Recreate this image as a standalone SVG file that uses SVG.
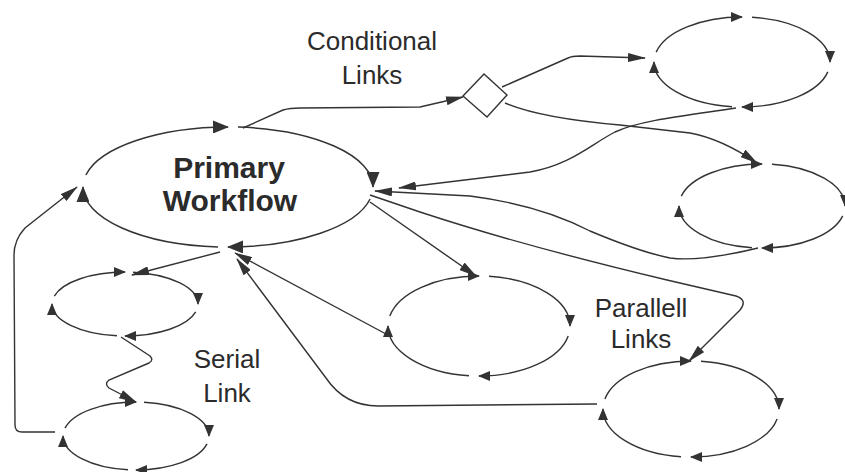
<svg xmlns="http://www.w3.org/2000/svg" width="845" height="472" viewBox="0 0 845 472">
<style>
  .arc { fill: none; stroke: #333; stroke-width: 1.4; marker-end: url(#ea); }
  .parc { fill: none; stroke: #333; stroke-width: 1.5; marker-end: url(#pa); }
  .link { fill: none; stroke: #333; stroke-width: 1.4; }
  .arr { marker-end: url(#ca); }
  .lbl { font-family: "Liberation Sans", Arial, Helvetica, sans-serif; font-size: 26px; fill: #2b2b2b; text-anchor: middle; }
  .title { font-family: "Liberation Sans", Arial, Helvetica, sans-serif; font-size: 30px; font-weight: bold; fill: #2b2b2b; text-anchor: middle; }
</style>
<defs>
  <marker id="ea" viewBox="0 0 12 10" refX="11" refY="5" markerWidth="12" markerHeight="10" orient="auto" markerUnits="userSpaceOnUse">
    <path d="M0,0 L12,5 L0,10 z" fill="#333"/>
  </marker>
  <marker id="pa" viewBox="0 0 16 13" refX="15" refY="6.5" markerWidth="16" markerHeight="13" orient="auto" markerUnits="userSpaceOnUse">
    <path d="M0,0 L16,6.5 L0,13 z" fill="#333"/>
  </marker>
  <marker id="ca" viewBox="0 0 18 9" refX="17" refY="4.5" markerWidth="18" markerHeight="9" orient="auto" markerUnits="userSpaceOnUse">
    <path d="M0,0 L18,4.5 L0,9 z" fill="#333"/>
  </marker>
</defs>
<rect width="845" height="472" fill="#ffffff"/>

<g id="connectors">
  <path class="link arr" d="M243,128 L283,110 Q290,108 300,108 L420,107 L463,97"/>
  <path class="link arr" d="M502,87 L568,58 Q572,56 580,56 L645,58"/>
  <path class="link arr" d="M505,103 Q540,118 620,125 L690,133 Q722,139 757,163"/>
  <path class="link arr" d="M736,108 C690,115 640,120 615,132 C590,145 570,165 530,172 L399,188"/>
  <path class="link arr" d="M758,248 Q700,262 670,258 Q640,252 590,231 Q540,205 470,196 L375,191"/>
  <path class="link arr" d="M370,202 L476,276"/>
  <path class="link arr" d="M370,195 L420,212 Q520,245 667,280 L736,296 Q748,300 740,310 L689,361"/>
  <path class="link arr" d="M386,334 L235,253"/>
  <path class="link arr" d="M597,404 L378,406 Q345,406 326,378 L237,259"/>
  <path class="link arr" d="M220,252 L132,275"/>
  <path class="link arr" d="M121,337 L150,356 Q154,360 149,363 L109,380 Q104,384 109,388 L136,402"/>
  <path class="link arr" d="M55,432 L22,432 Q15,432 15,425 L14,255 Q14,240 25,228 L77,187"/>
  <polygon id="decision" points="463,96 484,74 507,95 487,117" fill="#ffffff" stroke="#333" stroke-width="1.4"/>
</g>

<g id="primary">
  <path class="parc" d="M85.9,175 A145,60 0 0 1 228,127"/>
  <path class="parc" d="M238,127.1 A145,60 0 0 1 373,187"/>
  <path class="parc" d="M370.1,199 A145,60 0 0 1 228,247"/>
  <path class="parc" d="M218,246.9 A145,60 0 0 1 83,187"/>
  <text class="title" x="229" y="178">Primary</text>
  <text class="title" x="230" y="211">Workflow</text>
</g>

<g id="cond-top">
  <path class="arc" d="M656.2,52.1 A88,45 0 0 1 742,17"/>
  <path class="arc" d="M752,17.3 A88,45 0 0 1 830,62"/>
  <path class="arc" d="M827.8,71.9 A88,45 0 0 1 742,107"/>
  <path class="arc" d="M732,106.7 A88,45 0 0 1 654,62"/>
</g>

<g id="cond-mid">
  <path class="arc" d="M681.3,196.1 A83,42 0 0 1 762,164"/>
  <path class="arc" d="M772,164.3 A83,42 0 0 1 845,206"/>
  <path class="arc" d="M842.7,215.9 A83,42 0 0 1 762,248"/>
  <path class="arc" d="M752,247.7 A83,42 0 0 1 679,206"/>
</g>

<g id="parallel-center">
  <path class="arc" d="M389.8,316.1 A91,50 0 0 1 479,276"/>
  <path class="arc" d="M489,276.3 A91,50 0 0 1 570,326"/>
  <path class="arc" d="M568.2,335.9 A91,50 0 0 1 479,376"/>
  <path class="arc" d="M469,375.7 A91,50 0 0 1 388,326"/>
</g>

<g id="parallel-right">
  <path class="arc" d="M604.9,399.1 A88,48 0 0 1 691,361"/>
  <path class="arc" d="M701,361.3 A88,48 0 0 1 779,409"/>
  <path class="arc" d="M777.1,418.9 A88,48 0 0 1 691,457"/>
  <path class="arc" d="M681,456.7 A88,48 0 0 1 603,409"/>
</g>

<g id="serial-1">
  <path class="arc" d="M54.3,296.1 A73,32 0 0 1 125,272"/>
  <path class="arc" d="M133,272.2 A73,32 0 0 1 198,304"/>
  <path class="arc" d="M195.7,311.9 A73,32 0 0 1 125,336"/>
  <path class="arc" d="M117,335.8 A73,32 0 0 1 52,304"/>
</g>

<g id="serial-2">
  <path class="arc" d="M65,428.1 A73,34 0 0 1 136,402"/>
  <path class="arc" d="M144,402.2 A73,34 0 0 1 209,436"/>
  <path class="arc" d="M207,443.9 A73,34 0 0 1 136,470"/>
  <path class="arc" d="M128,469.8 A73,34 0 0 1 63,436"/>
</g>

<g id="labels">
  <text class="lbl" x="372" y="50">Conditional</text>
  <text class="lbl" x="372" y="84">Links</text>
  <text class="lbl" x="227" y="368">Serial</text>
  <text class="lbl" x="227" y="402">Link</text>
  <text class="lbl" x="641" y="317">Parallell</text>
  <text class="lbl" x="641" y="348">Links</text>
</g>
</svg>
